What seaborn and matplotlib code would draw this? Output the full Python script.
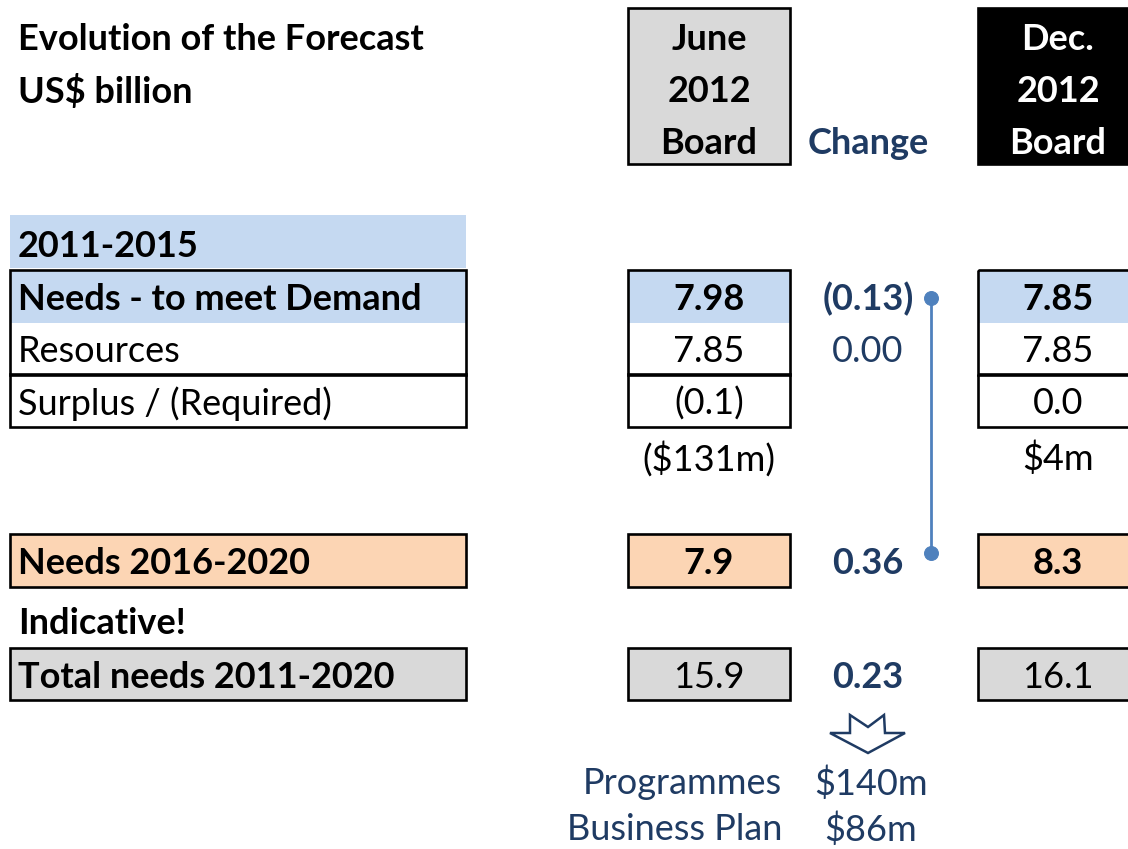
import matplotlib
matplotlib.use("Agg")
import matplotlib.pyplot as plt
import seaborn as sns
import pandas as pd
from matplotlib.patches import Rectangle, Polygon

# values, US$ billion
labels_2011_15 = ["Needs - to meet Demand", "Resources", "Surplus / (Required)"]
june_2011_15 = [7.98, 7.85, -0.131]
dec_2011_15 = [7.85, 7.85, 0.004]
change_2011_15 = [-0.13, 0.00]
needs_2016_20 = [7.9, 8.3, 0.36]      # june, dec, change
total_2011_20 = [15.9, 16.1, 0.23]    # june, dec, change
split_labels = ["Programmes", "Business Plan"]
split_values = ["$140m", "$86m"]

NAVY = "#1f3b63"
BLUE_FILL = "#c5d9f1"
ORANGE_FILL = "#fcd5b4"
GREY_FILL = "#d9d9d9"
LINK = "#4f81bd"


def fmt(v, d):
    s = f"{abs(v):.{d}f}"
    return f"({s})" if v < 0 else s


def fmt_m(v):
    s = f"${abs(v) * 1000:.0f}m"
    return f"({s})" if v < 0 else s


sns.set_theme(style="white")
plt.rcParams['font.family'] = ['Lato', 'DejaVu Sans']

fig = plt.figure(figsize=(11.28, 8.49), dpi=100)
ax = fig.add_axes([0, 0, 1, 1])
ax.set_xlim(0, 1128)
ax.set_ylim(849, 0)
ax.axis('off')

FS = 26
LW = 1.9
DY = 3  # small nudge so text sits like the original

# columns
LX0, LX1 = 10, 466
JX0, JX1 = 628, 790
DX0, DX1 = 978, 1135
JC, CC, DC = (JX0 + JX1) / 2, 868, 1058


def box(x0, y0, x1, y1, fc="none", ec="black", lw=LW):
    ax.add_patch(Rectangle((x0, y0), x1 - x0, y1 - y0, facecolor=fc,
                           edgecolor=ec, linewidth=lw))


def txt(x, y, s, ha="center", bold=False, color="black"):
    ax.text(x, y + DY, s, ha=ha, va="center", fontsize=FS, color=color,
            fontweight="bold" if bold else "normal")


# title
txt(18, 36, "Evolution of the Forecast", ha="left", bold=True)
txt(18, 88, "US$ billion", ha="left", bold=True)

# headers
box(JX0, 8, JX1, 164, fc=GREY_FILL)
box(DX0, 8, DX1, 164, fc="black")
for y, s in zip([36, 88, 140], ["June", "2012", "Board"]):
    txt(JC, y, s, bold=True)
for y, s in zip([36, 88, 140], ["Dec.", "2012", "Board"]):
    txt(DC, y, s, bold=True, color="white")
txt(CC, 140, "Change", bold=True, color=NAVY)

# 2011-2015 block
box(LX0, 215, LX1, 268, fc=BLUE_FILL, ec="none")
txt(18, 243, "2011-2015", ha="left", bold=True)
row_top = [270, 322, 374]
row_h = 52.5
for x0, x1 in [(LX0, LX1), (JX0, JX1), (DX0, DX1)]:
    ax.add_patch(Rectangle((x0, row_top[0]), x1 - x0, row_h, facecolor=BLUE_FILL,
                           edgecolor="none"))
    box(x0, row_top[0], x1, row_top[1] + row_h)
    box(x0, row_top[2], x1, row_top[2] + row_h)
for i, lab in enumerate(labels_2011_15):
    yc = row_top[i] + row_h / 2
    bold = i == 0
    txt(18, yc, lab, ha="left", bold=bold)
    txt(JC, yc, fmt(june_2011_15[i], 1 if i == 2 else 2), bold=bold)
    txt(DC, yc, fmt(dec_2011_15[i], 1 if i == 2 else 2), bold=bold)
    if i < len(change_2011_15):
        txt(CC, yc, fmt(change_2011_15[i], 2), bold=bold, color=NAVY)
txt(JC, 456, fmt_m(june_2011_15[2]))
txt(DC, 456, fmt_m(dec_2011_15[2]))

# 2016-2020
for x0, x1 in [(LX0, LX1), (JX0, JX1), (DX0, DX1)]:
    box(x0, 534, x1, 587, fc=ORANGE_FILL)
txt(18, 561, "Needs 2016-2020", ha="left", bold=True)
txt(JC, 561, fmt(needs_2016_20[0], 1), bold=True)
txt(DC, 561, fmt(needs_2016_20[1], 1), bold=True)
txt(CC, 561, fmt(needs_2016_20[2], 2), bold=True, color=NAVY)
txt(18, 620, "Indicative!", ha="left", bold=True)

# total
for x0, x1 in [(LX0, LX1), (JX0, JX1), (DX0, DX1)]:
    box(x0, 648, x1, 700, fc=GREY_FILL)
txt(18, 675, "Total needs 2011-2020", ha="left", bold=True)
txt(JC, 675, fmt(total_2011_20[0], 1))
txt(DC, 675, fmt(total_2011_20[1], 1))
txt(CC, 675, fmt(total_2011_20[2], 2), bold=True, color=NAVY)

# connector between the two changes
link = pd.DataFrame({"x": [931, 931], "y": [298, 553]})
sns.lineplot(data=link, x="x", y="y", ax=ax, color=LINK, linewidth=2,
             marker="o", markersize=10, markeredgecolor=LINK,
             estimator=None, sort=False)

# down arrow
arrow = [(850, 715), (868, 727), (884, 715), (885, 733), (905, 733),
         (868, 753), (830, 733), (850, 733)]
ax.add_patch(Polygon(arrow, closed=True, facecolor="white", edgecolor=NAVY,
                     linewidth=1.8))

for y, lab, val in zip([781, 827], split_labels, split_values):
    txt(782, y, lab, ha="right", color=NAVY)
    txt(CC + 3, y, val, color=NAVY)

ax.set_xlim(0, 1128)
ax.set_ylim(849, 0)
ax.axis('off')
fig.savefig("out.png", dpi=100)
